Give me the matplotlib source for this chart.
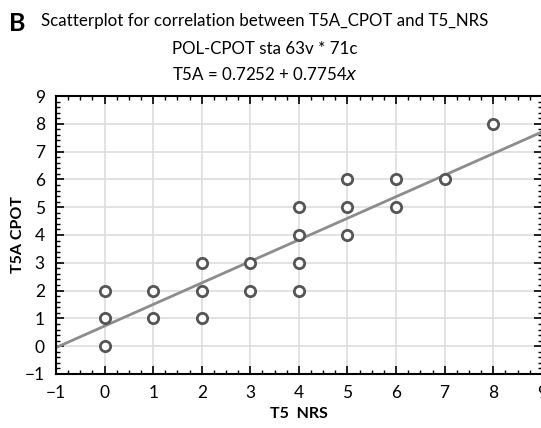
import numpy as np
import matplotlib
matplotlib.use("Agg")
import matplotlib.pyplot as plt
from matplotlib.ticker import MultipleLocator

plt.rcParams['font.family'] = ['Lato', 'DejaVu Sans']

# data
nrs = [0, 0, 0, 1, 1, 2, 2, 2, 3, 3, 4, 4, 4, 4, 5, 5, 5, 6, 6, 7, 8]
cpot = [0, 1, 2, 1, 2, 1, 2, 3, 2, 3, 2, 3, 4, 5, 4, 5, 6, 5, 6, 6, 8]
intercept = 0.7252
slope = 0.7754

fig = plt.figure(figsize=(5.41, 4.28), dpi=100)
ax = fig.add_axes([0.1035, 0.1262, 0.898, 0.6495])

# regression line
xl = np.array([-1, 9])
ax.plot(xl, intercept + slope * xl, color='#8c8c8c', linewidth=2, zorder=2)

ax.scatter(nrs, cpot, s=55, facecolors='white', edgecolors='#555555',
           linewidths=2, zorder=3)

ax.set_xlim(-1, 9)
ax.set_ylim(-1, 9)
ax.xaxis.set_minor_locator(MultipleLocator(0.25))
ax.yaxis.set_minor_locator(MultipleLocator(0.2))
ax.tick_params(which='both', direction='in', top=True, right=True)
ax.tick_params(which='major', length=6, width=1.2, labelsize=12.5, pad=8)
ax.tick_params(which='minor', length=3, width=1)
ax.set_xticks(range(-1, 10))
ax.set_xticklabels(['\u22121'] + [str(i) for i in range(0, 10)])
ax.set_yticks(range(-1, 10))
ax.set_yticklabels(['\u22121'] + [str(i) for i in range(0, 10)])
ax.grid(True, which='major', color='#dddddd', linewidth=1.2, zorder=0)
ax.set_axisbelow(True)
for s in ax.spines.values():
    s.set_linewidth(1.5)

ax.set_xlabel('T5  NRS', fontsize=11.5, fontweight='bold', labelpad=4)
ax.set_ylabel('T5A CPOT', fontsize=11.5, fontweight='bold', labelpad=0)

fig.text(0.49, 0.95, 'Scatterplot for correlation between T5A_CPOT and T5_NRS',
         ha='center', va='center', fontsize=12.2)
fig.text(0.49, 0.886, 'POL-CPOT sta 63v * 71c', ha='center', va='center', fontsize=12.2)
fig.text(0.49, 0.826, 'T5A = 0.7252 + 0.7754$\\it{x}$', ha='center', va='center', fontsize=12.2)
fig.text(0.017, 0.944, 'B', ha='left', va='center', fontsize=18, fontweight='bold')

fig.savefig('out.png', dpi=100)
